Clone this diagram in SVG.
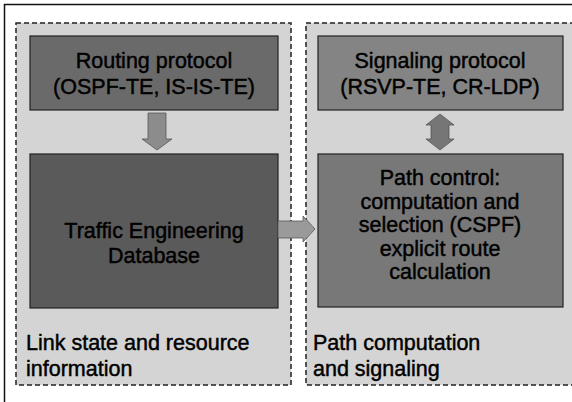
<svg xmlns="http://www.w3.org/2000/svg" width="572" height="402" viewBox="0 0 572 402">
<style>
.frame{fill:#ffffff;stroke:#111;stroke-width:1.5}
.panel{fill:#d4d4d4;stroke:#222;stroke-width:1.5;stroke-dasharray:5 3}
.box{stroke:#222;stroke-width:1.2}
.t{font-family:"Liberation Sans",Arial,sans-serif;font-size:21.5px;fill:#000;stroke:#000;stroke-width:0.45;text-anchor:middle}
.lbl{font-family:"Liberation Sans",Arial,sans-serif;font-size:21.5px;fill:#000;stroke:#000;stroke-width:0.45}
.arr{stroke:#555;stroke-width:0.8}
</style>
<rect x="0" y="0" width="572" height="402" fill="#ffffff"/>
<rect class="frame" x="4.5" y="4.5" width="620" height="420"/>
<g id="panel-link-state">
<rect class="panel" x="16" y="23" width="275" height="362"/>
<text class="lbl" x="26" y="350">Link state and resource</text>
<text class="lbl" x="26" y="376">information</text>
</g>
<g id="panel-path-computation">
<rect class="panel" x="306" y="23" width="290" height="362"/>
<text class="lbl" x="313" y="350">Path computation</text>
<text class="lbl" x="313" y="376">and signaling</text>
</g>
<g id="routing-protocol">
<rect class="box" x="30" y="36" width="248" height="74" fill="#6a6a6a"/>
<text class="t" x="154" y="68">Routing protocol</text>
<text class="t" x="154" y="94">(OSPF-TE, IS-IS-TE)</text>
</g>
<g id="ted">
<rect class="box" x="30" y="154" width="248" height="154" fill="#5a5a5a"/>
<text class="t" x="154" y="238">Traffic Engineering</text>
<text class="t" x="154" y="263">Database</text>
</g>
<g id="signaling-protocol">
<rect class="box" x="318" y="36" width="245" height="74" fill="#848484"/>
<text class="t" x="440" y="68">Signaling protocol</text>
<text class="t" x="440" y="94">(RSVP-TE, CR-LDP)</text>
</g>
<g id="path-control">
<rect class="box" x="318" y="154" width="245" height="153" fill="#787878"/>
<text class="t" x="440" y="185">Path control:</text>
<text class="t" x="440" y="209">computation and</text>
<text class="t" x="440" y="232">selection (CSPF)</text>
<text class="t" x="440" y="256">explicit route</text>
<text class="t" x="440" y="279">calculation</text>
</g>
<g id="connectors">
<polygon class="arr" fill="#8c8c8c" points="148,113 166,113 166,139 172,139 157,150 142,139 148,139"/>
<polygon class="arr" fill="#767676" points="440,114 454,125 449,125 449,139 454,139 440,150 426,139 431,139 431,125 426,125"/>
<polygon class="arr" fill="#9a9a9a" points="278,221 303,221 303,216 315,229 303,242 303,238 278,238"/>
</g>
</svg>
